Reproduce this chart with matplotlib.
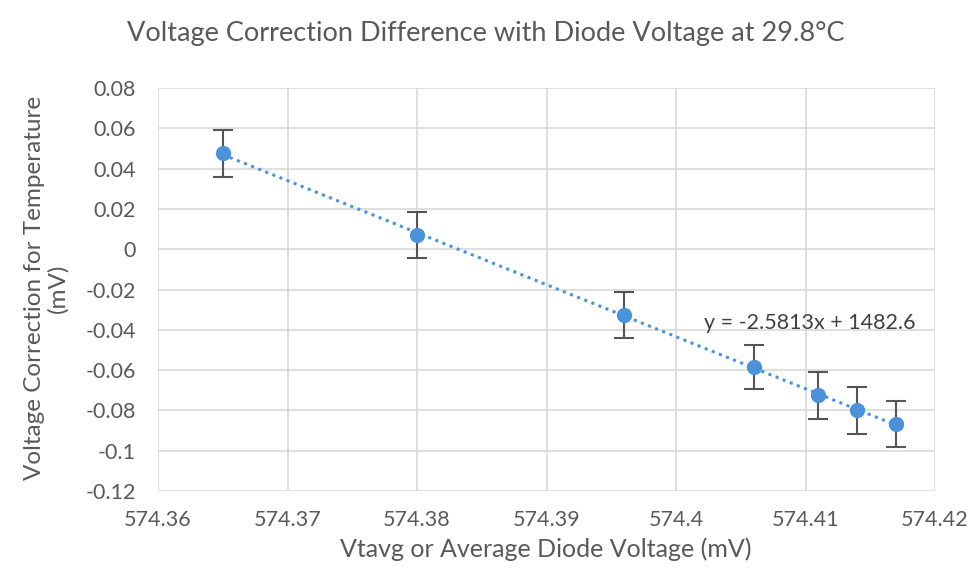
import numpy as np
from matplotlib import pyplot as plt
from matplotlib.ticker import FuncFormatter

plt.rcParams['font.family'] = ['Lato', 'DejaVu Sans']

# data
diode_mv = [574.365, 574.380, 574.396, 574.406, 574.411, 574.414, 574.417]
correction_mv = [0.0475, 0.0072, -0.0326, -0.0585, -0.0726, -0.0800, -0.0866]
error_mv = [0.0115, 0.0115, 0.0115, 0.0110, 0.0115, 0.0115, 0.0115]

x_ticks = [574.36, 574.37, 574.38, 574.39, 574.40, 574.41, 574.42]
y_ticks = [0.08, 0.06, 0.04, 0.02, 0.0, -0.02, -0.04, -0.06, -0.08, -0.10, -0.12]
equation = 'y = -2.5813x + 1482.6'

blue = '#4A93DA'
text_grey = '#595959'

fig = plt.figure(figsize=(9.72, 5.68), dpi=100)
ax = fig.add_axes([158 / 972, 1 - 491 / 568, (935 - 158) / 972, (491 - 88) / 568])

# trendline
coef = np.polyfit(diode_mv, correction_mv, 1)
tx = np.array([min(diode_mv), max(diode_mv)])
ax.plot(tx, np.polyval(coef, tx), linestyle=(0, (1, 1.5)), color=blue, linewidth=2.2, zorder=2)

ax.errorbar(diode_mv, correction_mv, yerr=error_mv, fmt='none', ecolor='#555555',
            elinewidth=1.5, capsize=7, capthick=1.5, zorder=3)
ax.plot(diode_mv, correction_mv, 'o', color=blue, markersize=10, zorder=4)

ax.set_xlim(574.36, 574.42)
ax.set_ylim(-0.12, 0.08)
ax.set_xticks(x_ticks)
ax.set_yticks(y_ticks)
fmt = FuncFormatter(lambda v, pos: '{:g}'.format(round(v, 4)))
ax.xaxis.set_major_formatter(fmt)
ax.yaxis.set_major_formatter(fmt)

ax.grid(True, color='#D9D9D9', linewidth=1.2, zorder=0)
ax.set_axisbelow(True)
for s in ax.spines.values():
    s.set_visible(False)
ax.tick_params(length=0, labelsize=15.5, labelcolor=text_grey)
ax.tick_params(axis='y', pad=16)
ax.tick_params(axis='x', pad=14)

ax.text(574.4103, -0.0365, equation, fontsize=15.5, color='#404040',
        ha='center', va='center')

fig.text(0.5, 1 - 33 / 568, 'Voltage Correction Difference with Diode Voltage at 29.8°C',
         ha='center', va='center', fontsize=19.5, color=text_grey)
fig.text(546 / 972, 1 - 549 / 568, 'Vtavg or Average Diode Voltage (mV)',
         ha='center', va='center', fontsize=18, color=text_grey)
fig.text(46 / 972, 1 - 288 / 568, 'Voltage Correction for Temperature\n(mV)',
         ha='center', va='center', rotation=90, fontsize=17.5, color=text_grey, linespacing=1.1)

fig.savefig('out.png')
